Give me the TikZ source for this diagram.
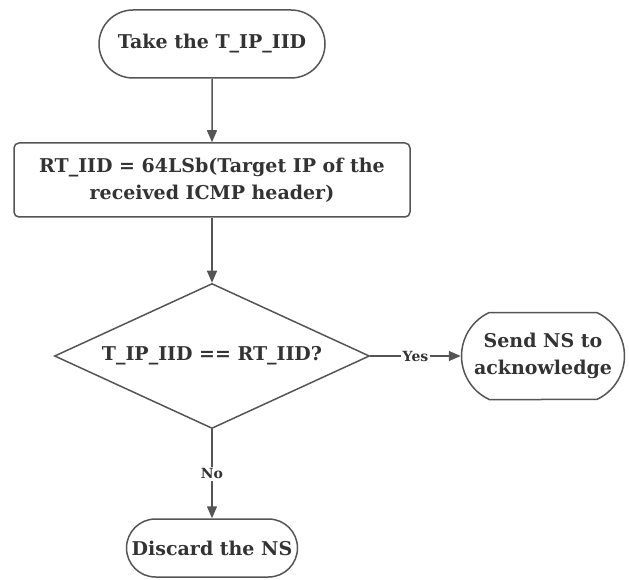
\documentclass[tikz,border=0pt]{standalone}
\usepackage{fontspec}
\setmainfont{DejaVu Serif}
\usetikzlibrary{shapes.misc, shapes.geometric, arrows.meta}
\definecolor{linegray}{HTML}{555555}
\definecolor{textgray}{HTML}{333333}
\begin{document}
\begin{tikzpicture}[
            x = 1pt, y = -1pt,
            line width = 1.5pt,
            terminal/.style = {shape=rounded rectangle, draw=linegray, inner sep=2pt},
            process/.style = {shape=rectangle, rounded corners=5pt, draw=linegray, minimum width=396pt, minimum height=74pt},
            decision/.style = {shape=diamond, draw=linegray, aspect=2.17, inner sep=0pt, minimum width=315pt, minimum height=145pt},
            flow/.style = {draw=linegray, -{Triangle[length=12pt, width=10pt]}},
            answer/.style = {fill=white, inner sep=2pt, font=\bfseries\fontsize{14}{16}\selectfont},
            every node/.style = {text=textgray, align=center, font=\bfseries\fontsize{19}{27}\selectfont}
          ]
          \useasboundingbox (0,0) rectangle (629,580);
          \node[terminal, minimum width=230pt, minimum height=68pt] (take) at (212,44) {Take the T\_IP\_IID};
          \node[process] (rtiid) at (212,180) {RT\_IID = 64LSb(Target IP of the\\ received ICMP header)};
          \node[decision] (match) at (212,356) {T\_IP\_IID == RT\_IID?};
          \node[terminal, rounded rectangle arc length=130, minimum width=167pt, minimum height=87pt] (send) at (543,356) {Send NS to\\ acknowledge};
          \node[terminal, minimum width=175pt, minimum height=58pt] (discard) at (212,548) {Discard the NS};

          \draw[flow] (take) -- (rtiid);
          \draw[flow] (rtiid) -- (match);
          \draw[flow] (match) -- node[answer] {Yes} (send);
          \draw[flow] (match) -- node[answer] {No} (discard);
        \end{tikzpicture}
\end{document}
